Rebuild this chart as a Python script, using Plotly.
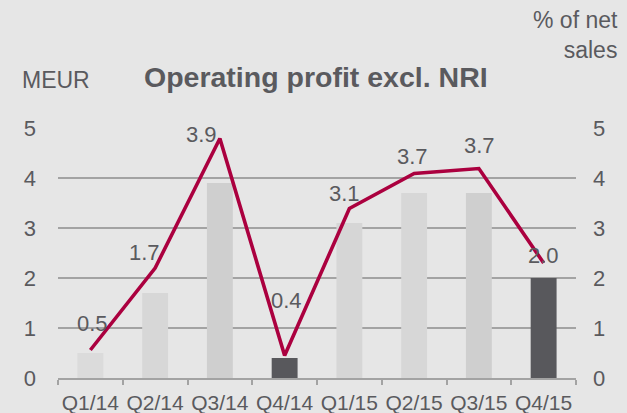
import plotly.graph_objects as go

QUARTERS = ["Q1/14", "Q2/14", "Q3/14", "Q4/14", "Q1/15", "Q2/15", "Q3/15", "Q4/15"]
OP_PROFIT = [0.5, 1.7, 3.9, 0.4, 3.1, 3.7, 3.7, 2.0]
PCT_NET_SALES = [0.56, 2.2, 4.79, 0.45, 3.39, 4.09, 4.19, 2.3]

TXT = "#5a5a5e"
GRID = "#a3a3a3"
BG = "#e6e6e6"
LINE = "#ab003f"
BAR_COLORS = ["#dbdbdb", "#d7d7d7", "#cfcfcf", "#58585c",
              "#d6d6d6", "#d7d7d7", "#cfcfcf", "#58585c"]
# pixel offsets of the value labels (dx, dy) so they dodge the line
LABEL_SHIFT = [(2, 30), (-11, 41), (-18, 49), (2, 58),
               (-5, 30), (-2, 37), (1, 48), (0, 23)]
FONT = "Liberation Sans, Arial, sans-serif"

W, H = 627, 413
ML, MR, MT, MB = 57.5, 51, 127.5, 35
PW, PH = W - ML - MR, H - MT - MB


def px_to_paper(x, y):
    # pixel position in the figure -> paper coordinates
    return (x - ML) / PW, (H - MB - y) / PH


fig = go.Figure()
fig.add_trace(go.Bar(
    x=QUARTERS, y=OP_PROFIT, width=0.4,
    marker=dict(color=BAR_COLORS, line=dict(width=0)),
    hoverinfo="skip",
))
fig.add_trace(go.Scatter(
    x=QUARTERS, y=PCT_NET_SALES, yaxis="y2",
    mode="lines", line=dict(color=LINE, width=3.6),
    hoverinfo="skip",
))

for q, v, (dx, dy) in zip(QUARTERS, OP_PROFIT, LABEL_SHIFT):
    fig.add_annotation(
        x=q, y=v, text=f"{v:.1f}", showarrow=False,
        xshift=dx, yshift=dy, yanchor="middle",
        font=dict(size=22, color=TXT, family=FONT),
    )

tx, ty = px_to_paper(316, 76)
fig.add_annotation(
    x=tx, y=ty, xref="paper", yref="paper", text="<b>Operating profit excl. NRI</b>",
    showarrow=False, yanchor="middle", font=dict(size=28.5, color=TXT, family=FONT),
)
mx, my = px_to_paper(55, 79)
fig.add_annotation(
    x=mx, y=my, xref="paper", yref="paper", text="MEUR", showarrow=False,
    xanchor="center", yanchor="middle", font=dict(size=23, color=TXT, family=FONT),
)
sx, sy = px_to_paper(620, 34)
fig.add_annotation(
    x=sx, y=sy, xref="paper", yref="paper", text="% of net<br>sales",
    showarrow=False, xanchor="right", yanchor="middle", align="right",
    font=dict(size=23, color=TXT, family=FONT),
)

fig.update_layout(
    width=W, height=H,
    margin=dict(l=ML, r=MR, t=MT, b=MB, autoexpand=False),
    paper_bgcolor=BG, plot_bgcolor=BG,
    showlegend=False,
    font=dict(family=FONT, color=TXT, size=22),
    xaxis=dict(
        showline=True, linecolor=GRID, linewidth=2, automargin=False, tickangle=0,
        ticks="outside", tickson="boundaries", ticklen=5, tickcolor=GRID, tickwidth=2,
        tickfont=dict(size=21, color=TXT), showgrid=False, ticklabelstandoff=5,
    ),
    yaxis=dict(
        range=[0, 5], dtick=1, showgrid=True, gridcolor=GRID, gridwidth=1.5,
        zeroline=False, automargin=False,
        tickfont=dict(size=22, color=TXT), ticklabelstandoff=21,
    ),
    yaxis2=dict(
        range=[0, 5], dtick=1, overlaying="y", side="right", showgrid=False,
        zeroline=False, automargin=False,
        tickfont=dict(size=22, color=TXT), ticklabelstandoff=16,
    ),
)

fig.write_html("out.html", config={"displayModeBar": False},
               post_script="document.body.style.margin='0';")
